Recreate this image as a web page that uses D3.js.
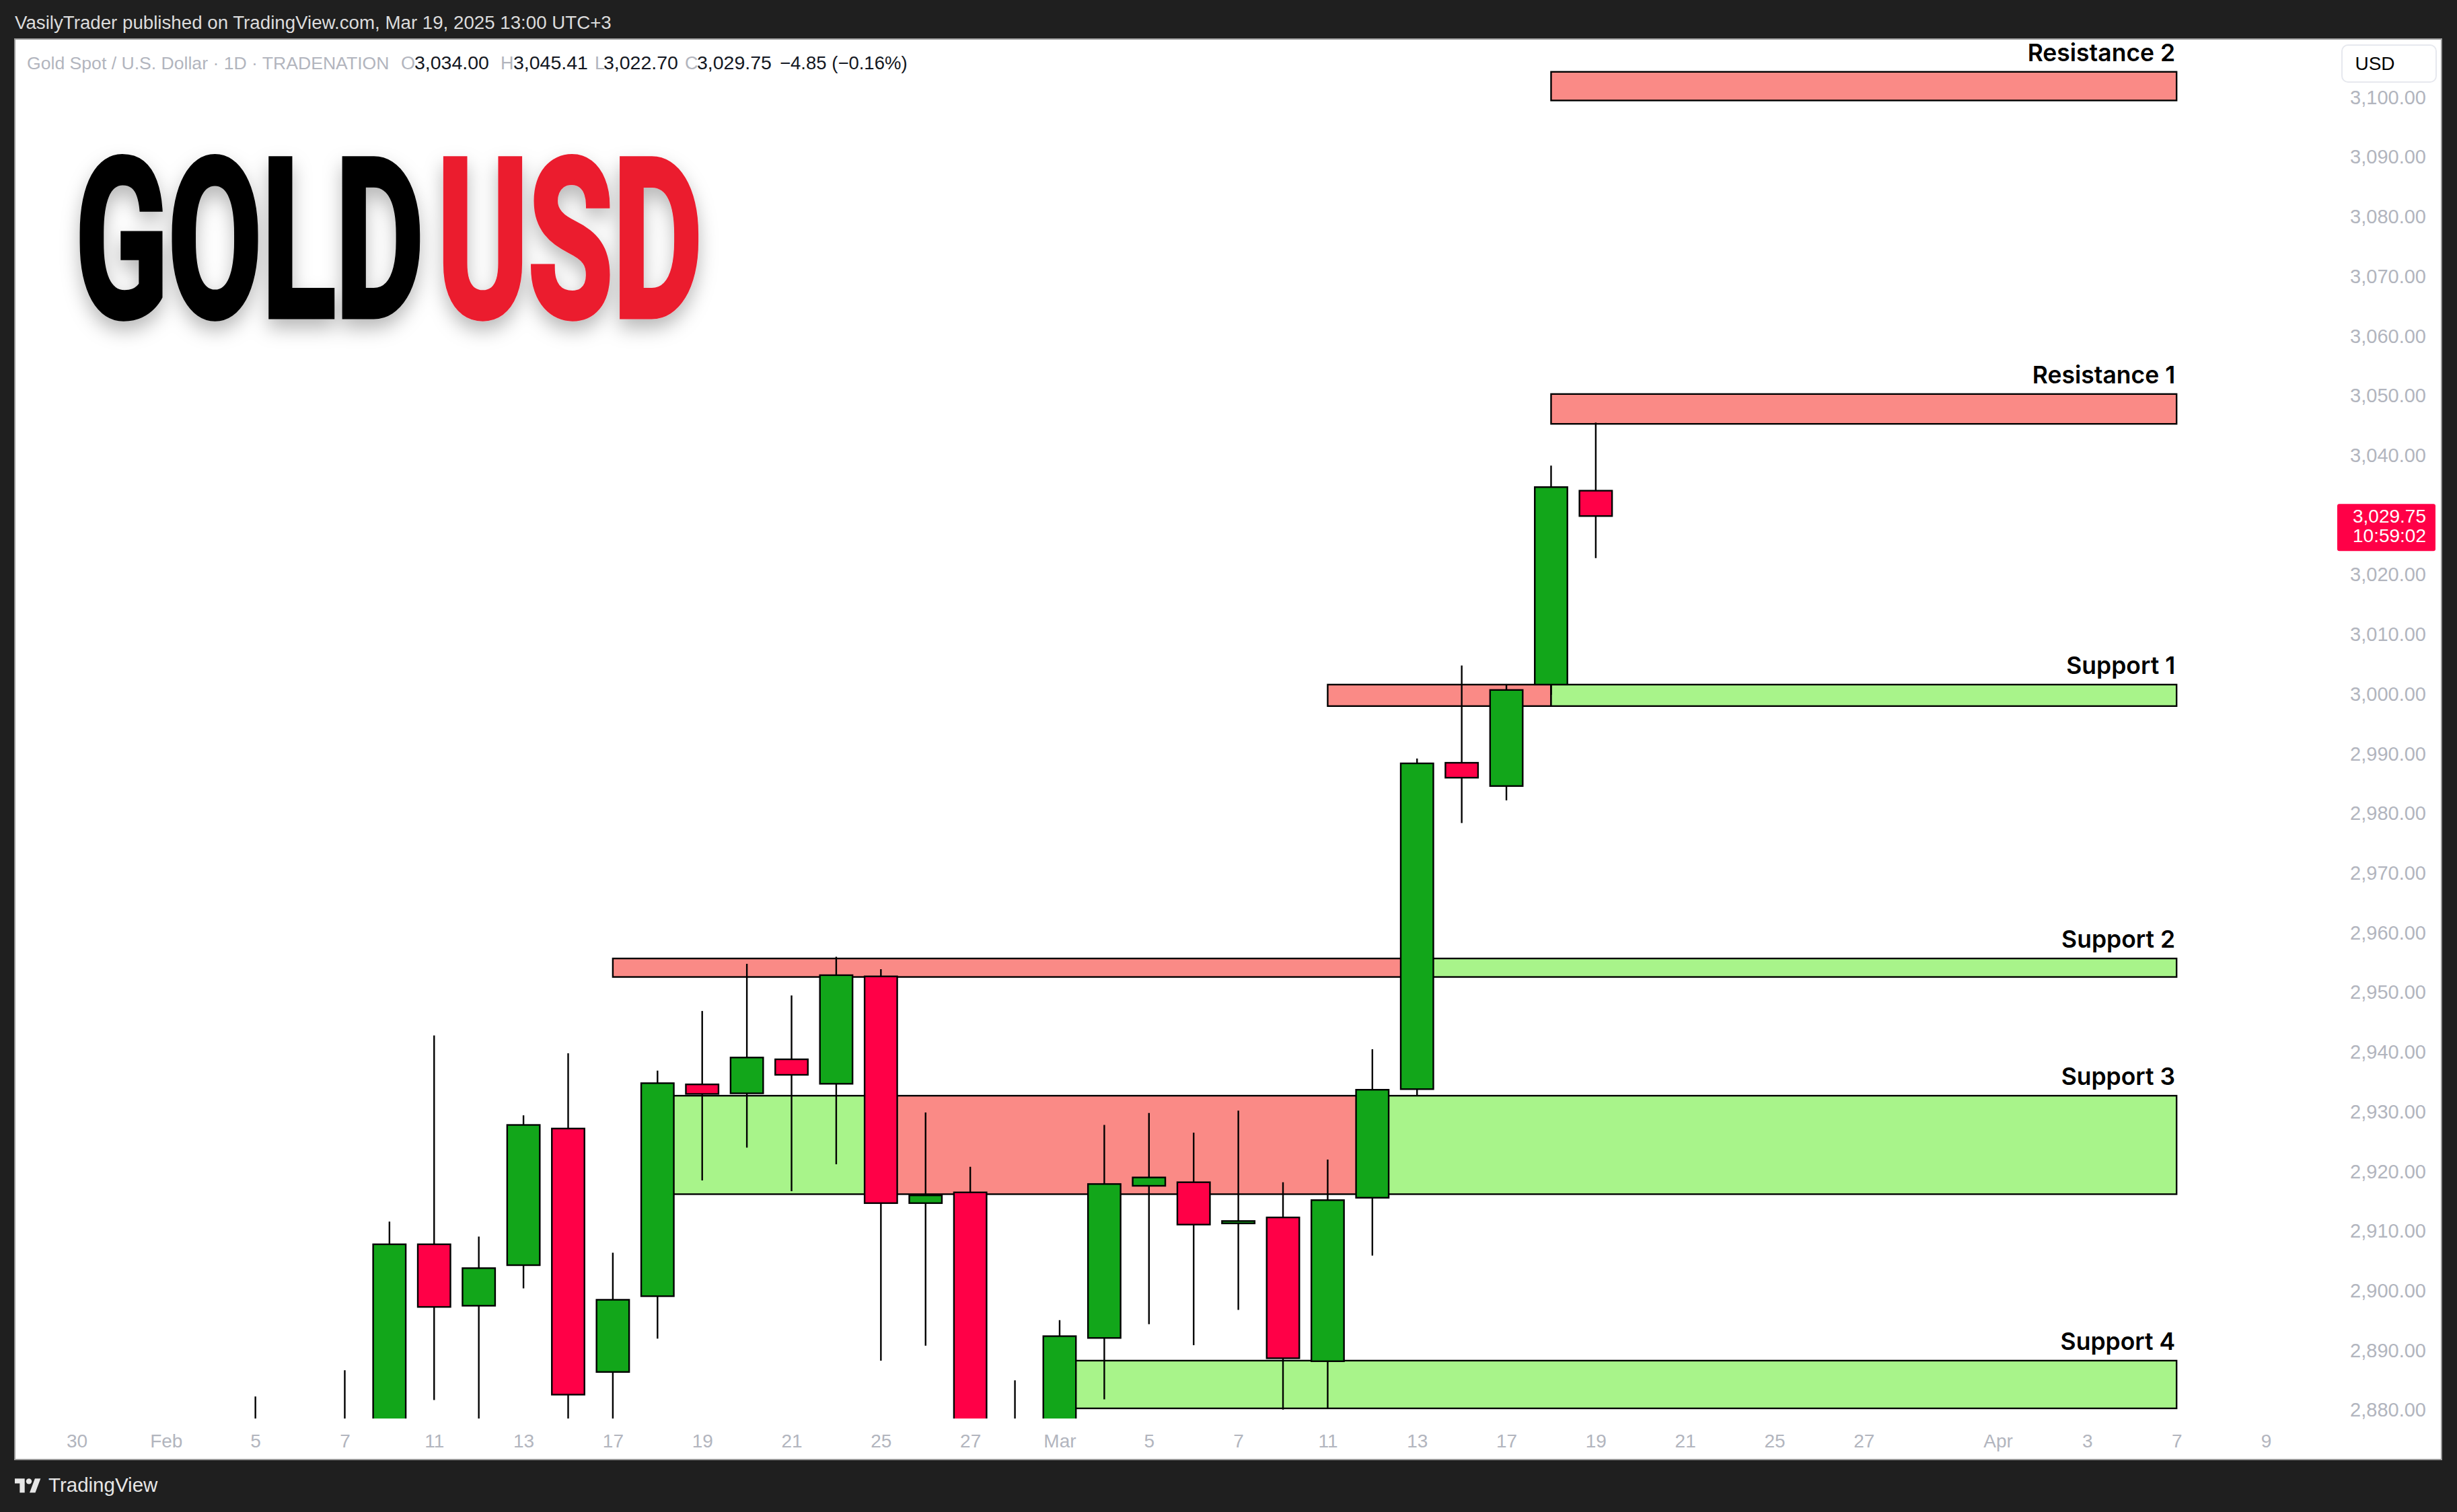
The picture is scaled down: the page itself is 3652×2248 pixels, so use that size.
<!DOCTYPE html>
<html><head><meta charset="utf-8">
<script src="https://cdn.jsdelivr.net/npm/d3@7"></script>
<style>html,body{margin:0;padding:0;background:#1f1f1f;}svg{display:block}</style>
</head><body>
<svg id="chart" width="3652" height="2248"></svg>
<script>
// ---------- DATA ----------
const tradingDays = [
 "2025-01-30","2025-01-31",
 "2025-02-03","2025-02-04","2025-02-05","2025-02-06","2025-02-07",
 "2025-02-10","2025-02-11","2025-02-12","2025-02-13","2025-02-14",
 "2025-02-17","2025-02-18","2025-02-19","2025-02-20","2025-02-21",
 "2025-02-24","2025-02-25","2025-02-26","2025-02-27","2025-02-28",
 "2025-03-03","2025-03-04","2025-03-05","2025-03-06","2025-03-07",
 "2025-03-10","2025-03-11","2025-03-12","2025-03-13","2025-03-14",
 "2025-03-17","2025-03-18","2025-03-19","2025-03-20","2025-03-21",
 "2025-03-24","2025-03-25","2025-03-26","2025-03-27","2025-03-28",
 "2025-03-31","2025-04-01","2025-04-02","2025-04-03","2025-04-04",
 "2025-04-07","2025-04-08","2025-04-09"];

const candleDates = [
 "2025-02-05","2025-02-06","2025-02-07",
 "2025-02-10","2025-02-11","2025-02-12","2025-02-13","2025-02-14",
 "2025-02-17","2025-02-18","2025-02-19","2025-02-20","2025-02-21",
 "2025-02-24","2025-02-25","2025-02-26","2025-02-27","2025-02-28",
 "2025-03-03","2025-03-04","2025-03-05","2025-03-06","2025-03-07",
 "2025-03-10","2025-03-11","2025-03-12","2025-03-13","2025-03-14",
 "2025-03-17","2025-03-18","2025-03-19"];
const opens  = [2842.0,2867.0,2856.0, 2861.5,2907.7,2897.4,2904.2,2927.1, 2886.3,2899.0,2934.5,2933.0,2938.7, 2934.6,2952.6,2914.6,2916.4,2876.0, 2858.0,2892.0,2917.5,2918.1,2911.2, 2912.2,2888.1,2915.5,2933.7,2988.4, 2984.5,3001.5,3034.00];
const highs  = [2882.2,2870.5,2886.6, 2911.5,2942.7,2909.0,2929.3,2939.7, 2906.3,2936.8,2946.8,2954.7,2949.4, 2955.9,2953.8,2929.8,2920.7,2884.9, 2895.0,2927.7,2929.7,2926.4,2930.1, 2918.1,2921.9,2940.4,2989.1,3004.7, 3001.6,3038.2,3045.41];
const lows   = [2834.5,2834.6,2853.2, 2859.5,2881.6,2864.5,2900.3,2876.0, 2877.0,2891.9,2918.4,2923.9,2916.6, 2921.1,2888.2,2890.7,2869.0,2832.7, 2856.5,2881.7,2894.3,2890.8,2896.7, 2880.0,2880.1,2905.8,2932.6,2978.3, 2982.1,2999.8,3022.70];
const closes = [2867.1,2856.0,2861.2, 2907.7,2897.2,2903.7,2927.7,2882.5, 2898.4,2934.7,2932.9,2939.0,2936.1, 2952.8,2914.6,2915.9,2876.0,2857.8, 2892.3,2917.8,2918.9,2911.0,2911.6, 2888.6,2915.1,2933.6,2988.3,2985.9, 3000.6,3034.60,3029.75];

const xTickDates  = ["2025-01-30","2025-02-03","2025-02-05","2025-02-07","2025-02-11","2025-02-13","2025-02-17","2025-02-19","2025-02-21","2025-02-25","2025-02-27","2025-03-03","2025-03-05","2025-03-07","2025-03-11","2025-03-13","2025-03-17","2025-03-19","2025-03-21","2025-03-25","2025-03-27","2025-04-01","2025-04-03","2025-04-07","2025-04-09"];
const xTickLabels = ["30","Feb","5","7","11","13","17","19","21","25","27","Mar","5","7","11","13","17","19","21","25","27","Apr","3","7","9"];
const priceTicks = [2880,2890,2900,2910,2920,2930,2940,2950,2960,2970,2980,2990,3000,3010,3020,3030,3040,3050,3060,3070,3080,3090,3100];

const zoneNames = ["Resistance 2","Resistance 1","Support 1","Support 2","Support 3","Support 4"];
const zoneLow   = [3099.4, 3045.2, 2997.9, 2952.5, 2916.1, 2880.2];
const zoneHigh  = [3104.2, 3050.2, 3001.5, 2955.6, 2932.6, 2888.2];
const zoneLabelDate = "2025-04-07";
const segZone  = [0,1,2,2,3,3,4,4,4,5];
const segStart = ["2025-03-18","2025-03-18","2025-03-11","2025-03-18","2025-02-17","2025-03-13","2025-02-18","2025-02-25","2025-03-12","2025-03-03"];
const segEnd   = ["2025-04-07","2025-04-07","2025-03-18","2025-04-07","2025-03-13","2025-04-07","2025-02-25","2025-03-12","2025-04-07","2025-04-07"];
const segKind  = ["res","res","res","sup","res","sup","sup","res","sup","sup"];

const lastPrice = 3029.75, lastCountdown = "10:59:02";
const headerText = "VasilyTrader published on TradingView.com, Mar 19, 2025 13:00 UTC+3";
const symbolText = "Gold Spot / U.S. Dollar · 1D · TRADENATION";

// ---------- STYLE ----------
const C = {bg:"#1f1f1f", up:"#12a61a", down:"#ff0047", res:"#fa8a86", sup:"#a8f48a", axis:"#b2b5be", ink:"#131722"};
const SANS = "'Liberation Sans', Arial, sans-serif";

const svg = d3.select("#chart");
const W = 3652, H = 2248;
const plot = {left:22, right:3472, top:58, bottom:2109};

svg.append("rect").attr("width",W).attr("height",H).attr("fill",C.bg);
svg.append("rect").attr("x",22).attr("y",58).attr("width",3607).attr("height",2112)
  .attr("fill","#fff").attr("stroke","#9a9a9a").attr("stroke-width",2);

const defs = svg.append("defs");
defs.append("clipPath").attr("id","plotclip").append("rect")
  .attr("x",plot.left).attr("y",plot.top).attr("width",plot.right-plot.left).attr("height",plot.bottom-plot.top);
const f = defs.append("filter").attr("id","tshadow").attr("x","-30%").attr("y","-30%").attr("width","160%").attr("height","170%");
f.append("feDropShadow").attr("dx",0).attr("dy",14).attr("stdDeviation",14).attr("flood-color","#000").attr("flood-opacity",0.28);

// ---------- SCALES ----------
const x = d3.scalePoint().domain(tradingDays).range([114, 3368]);
const y = d3.scaleLinear().domain([2878.5, 3109.7]).range([plot.bottom, plot.top]);
const bodyW = x.step()*0.73;

// ---------- ZONES ----------
const gz = svg.append("g").attr("clip-path","url(#plotclip)");
const segs = segZone.map((z,i)=>({z, s:segStart[i], e:segEnd[i], k:segKind[i]}));
gz.selectAll("rect").data(segs).join("rect")
  .attr("x",d=>x(d.s)).attr("width",d=>x(d.e)-x(d.s))
  .attr("y",d=>y(zoneHigh[d.z])).attr("height",d=>y(zoneLow[d.z])-y(zoneHigh[d.z]))
  .attr("fill",d=>d.k==="res"?C.res:C.sup).attr("stroke","#000").attr("stroke-width",2.4);

// ---------- CANDLES ----------
const candles = candleDates.map((d,i)=>({d, o:opens[i], h:highs[i], l:lows[i], c:closes[i]}));
const gc = svg.append("g").attr("clip-path","url(#plotclip)");
gc.selectAll("line").data(candles).join("line")
  .attr("x1",d=>x(d.d)).attr("x2",d=>x(d.d))
  .attr("y1",d=>y(d.h)).attr("y2",d=>y(d.l))
  .attr("stroke","#000").attr("stroke-width",2.4);
gc.selectAll("rect").data(candles).join("rect")
  .attr("x",d=>x(d.d)-bodyW/2).attr("width",bodyW)
  .attr("y",d=>y(Math.max(d.o,d.c))).attr("height",d=>Math.max(Math.abs(y(d.o)-y(d.c)),1))
  .attr("fill",d=>d.c>=d.o?C.up:C.down).attr("stroke","#000").attr("stroke-width",2.4);

// ---------- ZONE LABELS ----------
svg.append("g").selectAll("text").data(zoneNames).join("text")
  .attr("x",x(zoneLabelDate)-2).attr("y",(d,i)=>y(zoneHigh[i])-16)
  .attr("text-anchor","end").attr("font-family","Inter, 'Liberation Sans', sans-serif")
  .attr("font-weight",600).attr("font-size",35.5).attr("fill","#000").text(d=>d);

// ---------- AXES ----------
const yAxis = d3.axisRight(y).tickValues(priceTicks).tickFormat(d3.format(",.2f")).tickSize(0);
const gy = svg.append("g").attr("transform","translate(3606,0)").call(yAxis);
gy.select(".domain").remove();
gy.selectAll("text").attr("x",0).attr("text-anchor","end").attr("dy","0.35em")
  .attr("font-family",SANS).attr("font-size",29).attr("fill",C.axis);

const xAxis = d3.axisBottom(x).tickValues(xTickDates).tickFormat((d,i)=>xTickLabels[i]).tickSize(0);
const gx = svg.append("g").attr("transform","translate(0,2109)").call(xAxis);
gx.select(".domain").remove();
gx.selectAll("text").attr("y",43).attr("dy",0)
  .attr("font-family",SANS).attr("font-size",28).attr("fill",C.axis);

// USD button
svg.append("rect").attr("x",3481).attr("y",67).attr("width",140).attr("height",55).attr("rx",9)
  .attr("fill","#fff").attr("stroke","#e6e8ee").attr("stroke-width",2);
svg.append("text").attr("x",3530).attr("y",104).attr("text-anchor","middle")
  .attr("font-family",SANS).attr("font-size",28).attr("fill","#000").text("USD");

// last price label
const ly = y(lastPrice);
svg.append("rect").attr("x",3474).attr("y",ly-18).attr("width",146).attr("height",70).attr("rx",3).attr("fill",C.down);
svg.append("text").attr("x",3606).attr("y",ly+10).attr("text-anchor","end")
  .attr("font-family",SANS).attr("font-size",28).attr("fill","#fff")
  .text(d3.format(",.2f")(lastPrice));
svg.append("text").attr("x",3606).attr("y",ly+39).attr("text-anchor","end")
  .attr("font-family",SANS).attr("font-size",28).attr("fill","#fff")
  .text(lastCountdown);

// ---------- HEADER / LEGEND ----------
svg.append("text").attr("x",22).attr("y",43)
  .attr("font-family",SANS).attr("font-size",27.7).attr("fill","#dcdcdc")
  .text(headerText);

const leg = svg.append("text").attr("x",40).attr("y",103)
  .attr("font-family",SANS).attr("font-size",26.6);
const lastIdx = candles.length-1;
const fmt = d3.format(",.2f");
const chg = closes[lastIdx]-closes[lastIdx-1];
const pct = chg/closes[lastIdx-1]*100;
const legParts = [
 [symbolText, C.axis, null, 26.6],
 ["O", C.axis, 596, 27], [fmt(opens[lastIdx]), C.ink, 616, 28.5],
 ["H", C.axis, 744, 27], [fmt(highs[lastIdx]), C.ink, 763, 28.5],
 ["L", C.axis, 884, 27], [fmt(lows[lastIdx]), C.ink, 897, 28.5],
 ["C", C.axis, 1018, 27], [fmt(closes[lastIdx]), C.ink, 1036, 28.5],
 ["\u2212"+Math.abs(chg).toFixed(2)+" (\u2212"+Math.abs(pct).toFixed(2)+"%)", C.ink, 1159, 27.5]
];
legParts.forEach(p=>{ const t=leg.append("tspan").attr("fill",p[1]).attr("font-size",p[3]).text(p[0]); if(p[2]!==null) t.attr("x",p[2]); });

// ---------- TITLE ----------
const gt = svg.append("g").attr("filter","url(#tshadow)");
const titleWords = [["GOLD",112,518,"#000"],["USD",650,394,"#eb1c2e"]];
titleWords.forEach(w=>{
  const g = gt.append("g");
  const t = g.append("text").attr("x",0).attr("y",0)
    .attr("font-family","Roboto, 'Liberation Sans', sans-serif").attr("font-weight",700).attr("font-size",328)
    .attr("fill",w[3]).attr("stroke",w[3]).attr("stroke-width",9).attr("stroke-linejoin","miter").text(w[0]);
  const natural = t.node().getComputedTextLength();
  g.attr("transform",`translate(${w[1]},470) scale(${w[2]/natural},1)`);
});

// ---------- FOOTER ----------
const logo = svg.append("g").attr("transform","translate(22,2194) scale(1.05)").attr("fill","#e6e6e6");
logo.append("path").attr("d","M14 24H7V11H0V4h14v20z");
logo.append("circle").attr("cx",20).attr("cy",8).attr("r",4);
logo.append("path").attr("d","M29 24h-8l7.5-20h8L29 24z");
svg.append("text").attr("x",72).attr("y",2218)
  .attr("font-family",SANS).attr("font-size",29.5).attr("fill","#e6e6e6")
  .text("TradingView");
</script>
</body></html>
